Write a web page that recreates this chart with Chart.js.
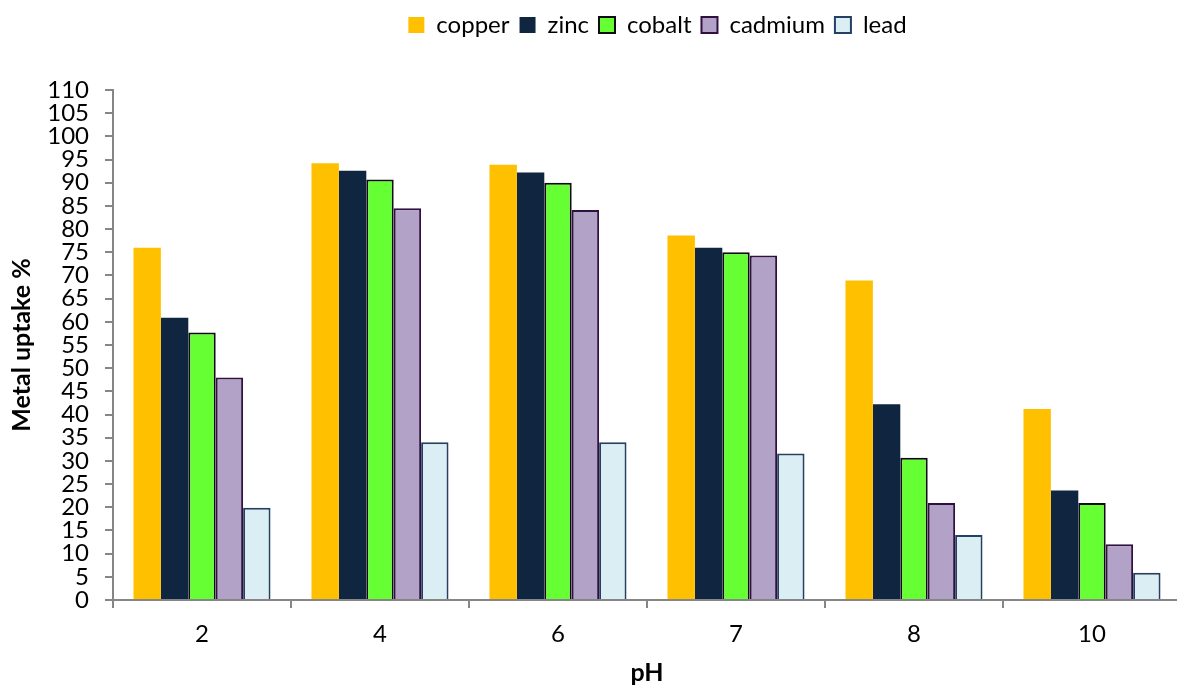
<!DOCTYPE html>
<html>
<head>
<meta charset="utf-8">
<script src="https://cdn.jsdelivr.net/npm/chart.js@4.4.1/dist/chart.umd.min.js"></script>
<style>
  html, body { margin: 0; padding: 0; background: #fff; overflow: hidden; }
  #wrap { width: 1184px; height: 688px; }
</style>
</head>
<body>
<div id="wrap"><canvas id="c"></canvas></div>
<script>
// pH values on the x axis
const phLabels = ['2', '4', '6', '7', '8', '10'];

// Metal uptake (%) per pH
const copper  = [76.0, 94.2, 93.9, 78.6, 68.9, 41.2];
const zinc    = [60.9, 92.6, 92.2, 76.0, 42.2, 23.6];
const cobalt  = [57.7, 90.7, 90.0, 75.0, 30.7, 20.9];
const cadmium = [48.0, 84.5, 84.1, 74.3, 20.9, 12.0];
const lead    = [19.9, 34.0, 34.0, 31.6, 14.0, 5.9];

const FONT = 'Lato, "Open Sans", "DejaVu Sans", sans-serif';
const AXIS_GREY = '#868686';

// Adds room under the legend and nudges it over the plot
const legendSpacing = {
  id: 'legendSpacing',
  beforeInit(chart) {
    const legend = chart.legend;
    const fit = legend.fit;
    legend.fit = function () {
      fit.call(this);
      this.height += 43;
    };
  },
  afterLayout(chart) {
    chart.legend.left += 67;
    chart.legend.right += 67;
  }
};

new Chart(document.getElementById('c'), {
  type: 'bar',
  data: {
    labels: phLabels,
    datasets: [
      { label: 'copper',  data: copper,  backgroundColor: '#FFC000', borderColor: '#FFC000', borderWidth: 0 },
      { label: 'zinc',    data: zinc,    backgroundColor: '#10253F', borderColor: '#10253F', borderWidth: 0 },
      { label: 'cobalt',  data: cobalt,  backgroundColor: '#66FF33', borderColor: '#0D0D0D', borderWidth: 2 },
      { label: 'cadmium', data: cadmium, backgroundColor: '#B3A2C7', borderColor: '#30103F', borderWidth: 2 },
      { label: 'lead',    data: lead,    backgroundColor: '#DBEEF4', borderColor: '#254061', borderWidth: 2 }
    ]
  },
  options: {
    responsive: true,
    maintainAspectRatio: false,
    animation: false,
    layout: { padding: { left: 0, right: 3, top: 3, bottom: 0 } },
    datasets: { bar: { categoryPercentage: 0.77, barPercentage: 1.0 } },
    plugins: {
      tooltip: { enabled: false },
      legend: {
        position: 'top',
        align: 'center',
        labels: {
          boxWidth: 16,
          boxHeight: 16,
          padding: 10,
          color: '#000',
          font: { family: FONT, size: 24 }
        }
      }
    },
    scales: {
      x: {
        offset: true,
        grid: {
          offset: true,
          drawOnChartArea: false,
          drawTicks: true,
          tickLength: 8,
          color: AXIS_GREY,
          lineWidth: 2
        },
        border: { display: true, color: AXIS_GREY, width: 2 },
        ticks: { color: '#000', padding: 12, font: { family: FONT, size: 24 } },
        title: {
          display: true,
          text: 'pH',
          color: '#000',
          font: { family: FONT, size: 25, weight: 'bold' },
          padding: { top: 2, bottom: 0 }
        },
        afterFit(scale) { scale.height = 88; }
      },
      y: {
        min: 0,
        max: 110,
        ticks: {
          stepSize: 5,
          autoSkip: false,
          color: '#000',
          padding: 16,
          font: { family: FONT, size: 24 }
        },
        grid: {
          drawOnChartArea: false,
          drawTicks: true,
          tickLength: 8,
          color: AXIS_GREY,
          lineWidth: 2
        },
        border: { display: true, color: AXIS_GREY, width: 2 },
        title: {
          display: true,
          text: 'Metal uptake %',
          color: '#000',
          font: { family: FONT, size: 25, weight: 'bold' },
          padding: { top: 7, bottom: 0 }
        },
        afterFit(scale) { scale.width = 113; }
      }
    }
  },
  plugins: [legendSpacing]
});
</script>
</body>
</html>
